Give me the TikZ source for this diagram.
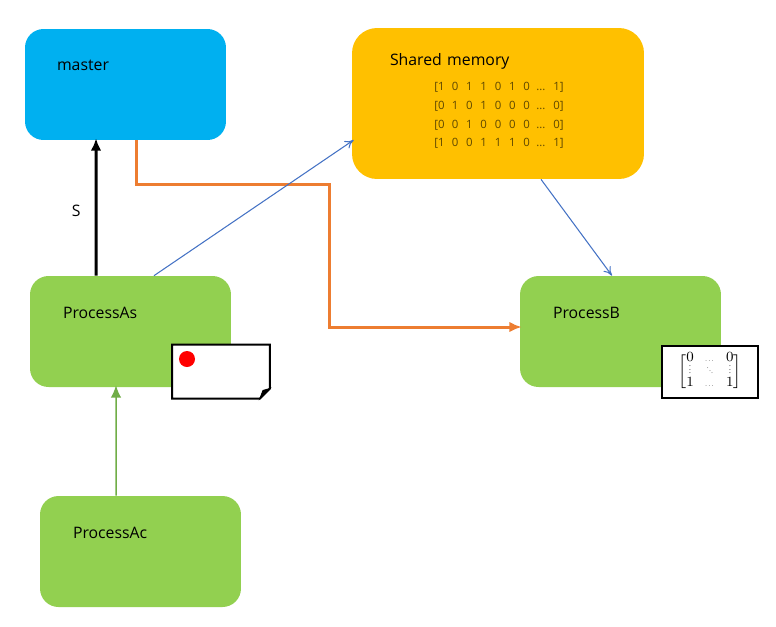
\documentclass[tikz,border=0pt]{standalone}
\usepackage{amsmath}
\usepackage{fontspec}
\setmainfont{Open Sans}
\usetikzlibrary{arrows.meta,positioning,calc}
\definecolor{masterblue}{HTML}{00B0F0}
\definecolor{sharedyellow}{HTML}{FFC000}
\definecolor{procgreen}{HTML}{92D050}
\definecolor{edgeorange}{HTML}{ED7D31}
\definecolor{edgeblue}{HTML}{4472C4}
\definecolor{edgegreen}{HTML}{70AD47}
\definecolor{bitbrown}{HTML}{5F4800}
\newcommand{\smalldots}{\scalebox{.5}{$\dots$}}

\begin{document}
\begin{tikzpicture}
[x=.02cm,y=-.02cm,font=\fontsize{9}{11}\selectfont,
box/.style={rounded corners=.37cm,text width=2.74cm,inner xsep=.64cm,inner ysep=0pt,text height=.83cm,text depth=1.39cm,align=left},
sharedbox/.style={box,fill=sharedyellow,rounded corners=.5cm,text width=4.32cm,inner xsep=.76cm,text height=.74cm,text depth=2.28cm},
procbox/.style={box,fill=procgreen,inner xsep=.66cm,text width=2.7cm,text height=.85cm,text depth=1.37cm},
notebox/.style={fill=white,minimum width=1.92cm,minimum height=1.04cm,inner sep=0pt,line width=.04cm},
thin edge/.style={draw=edgeblue,-{To[length=5pt,width=5pt]},line width=.6pt},
thick edge/.style={line width=.06cm,-{Latex[length=7pt,width=6pt]}}]
%%%%%%%%%%

\useasboundingbox (0,0) rectangle (776,626);

\node[box,fill=masterblue] (master) at (125.5,84.5) {master};
\node[sharedbox] (shared) at (498,103.5) {Shared memory};
\node[procbox] (procAs) at (130.5,331.5) {ProcessAs};
\node[procbox] (procB) at (620.5,331.5) {ProcessB};
\node[procbox] (procAc) at (140.5,551.5) {ProcessAc};

% bit rows of the shared memory
\node[text=bitbrown,inner sep=0pt,font=\fontsize{6.5}{7.5}\selectfont\rmfamily] (bits) at (499,116) {%
\setlength{\tabcolsep}{0pt}%
\begin{tabular}{p{9.9pt}*{5}{p{8.14pt}}p{7.4pt}p{9.6pt}l}
[1&0&1&1&0&1&0&...&1]\\[3.2pt]
[0&1&0&1&0&0&0&...&0]\\[3.2pt]
[0&0&1&0&0&0&0&...&0]\\[3.2pt]
[1&0&0&1&1&1&0&...&1]
\end{tabular}};

\node[notebox] (noteAs) at (221,371.5) {};
\draw[line width=.04cm,fill=white] (noteAs.north west) -- (noteAs.north east) -- ([yshift=.2cm]noteAs.south east) -- ([xshift=-.2cm]noteAs.south east) -- (noteAs.south west) -- cycle;
\draw[black,fill=black,line width=.02cm] ([xshift=-.2cm]noteAs.south east) -- ([xshift=-.14cm,yshift=.16cm]noteAs.south east) -- ([yshift=.2cm]noteAs.south east) -- cycle;
\node[circle,fill=red,inner sep=0pt,minimum size=.32cm] (dot) at (187,359) {};

\node[notebox,draw] (noteB) at (710,371.5) {%
\fontsize{8}{8.5}\selectfont\rmfamily\setlength{\arraycolsep}{3.2pt}$\renewcommand{\arraystretch}{.8}\begin{bmatrix}0&\smalldots&0\\ \smash{\scalebox{.5}{$\vdots$}}&\smash{\scalebox{.4}{$\ddots$}}&\smash{\scalebox{.5}{$\vdots$}}\\1&\smalldots&1\end{bmatrix}$};

\coordinate (bend) at (329,184);

\draw[thick edge] ([xshift=-.69cm]procAs.north) -- node[left=.16cm,yshift=-.08cm] (slabel) {S} ([xshift=-.59cm,yshift=.04cm]master.south);
\draw[edgeorange,line width=.06cm,-{Latex[length=7pt,width=6pt]}] ([xshift=.21cm]master.south) |- (bend) |- ([xshift=.04cm,yshift=.09cm]procB.west);
\draw[thin edge] ([xshift=.47cm]procAs.north) -- ([xshift=.04cm,yshift=-.73cm]shared.west);
\draw[thin edge] ([xshift=.86cm]shared.south) -- ([xshift=-.17cm]procB.north);
\draw[edgegreen,line width=.03cm,-{Latex[length=7pt,width=6pt]}] ([xshift=-.49cm]procAc.north) -- ([xshift=-.29cm,yshift=.04cm]procAs.south);
\end{tikzpicture}
\end{document}
